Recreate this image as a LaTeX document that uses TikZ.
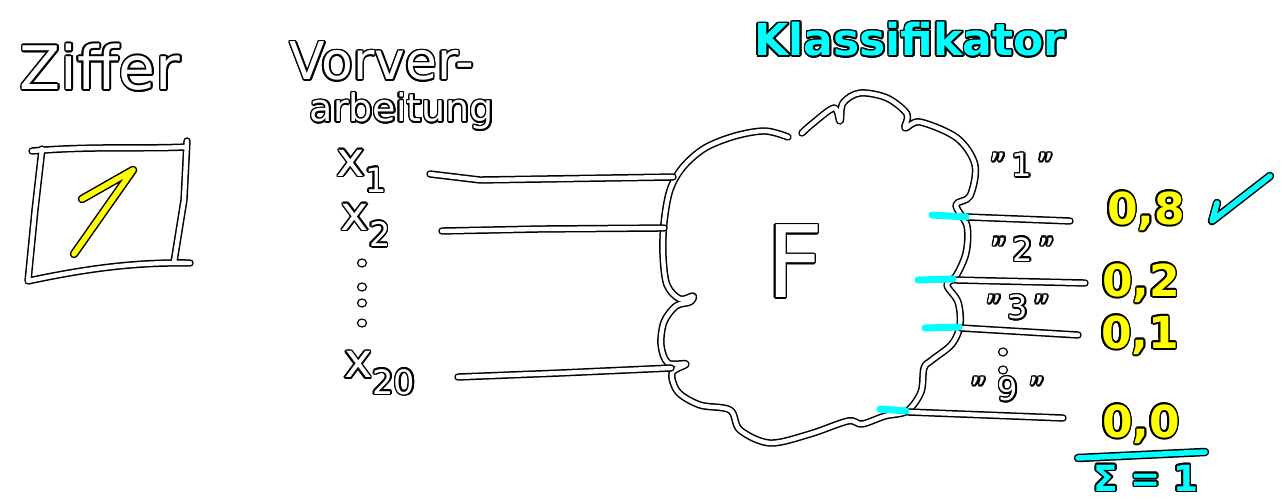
\documentclass[tikz,border=0pt]{standalone}
\usepackage{fontspec}
\setmainfont{DejaVu Sans}
\usepackage{contour}
\contourlength{1.6pt}
\definecolor{hcyan}{RGB}{0,255,255}
\definecolor{hyellow}{RGB}{255,255,0}
\newcommand{\outl}[1]{\contour{black}{#1}}
\newcommand{\fsz}[1]{\fontsize{#1}{#1}\selectfont}
\begin{document}
\begin{tikzpicture}[x=1pt, y=-1pt,
    ink/.style={draw=black, double=white, double distance=4.4pt, line width=1.5pt, line cap=round, line join=round},
    hl/.style={draw=black, double=#1, double distance=5.5pt, line width=1.5pt, line cap=round, line join=round},
    tick/.style={hcyan, line width=7pt, line cap=round},
    lbl/.style={text=white, inner sep=0pt},
    val/.style={text=hyellow, inner sep=0pt, font=\bfseries\fsz{44}}]
    \useasboundingbox (0,0) rectangle (1287,500);

    % Ziffer
    \node[lbl, font=\fsz{60}] (ziffer) at (100,68) {\outl{Ziffer}};
    \draw[ink] (32,151) .. controls (90,146) and (140,149) .. (186,147) (187,141) -- (184,200) -- (174,262)
        (190,263) .. controls (130,262) and (80,270) .. (28,281) -- (35,210) -- (42,149);
    \draw[hl=hyellow] (82,199) -- (133,170) -- (74,254);

    % Vorverarbeitung
    \node[lbl, font=\fsz{52}] (vorv) at (382,62) {\outl{Vorver-}};
    \node[lbl, font=\fsz{38}] (arb) at (402,112) {\outl{arbeitung}};

    % Eingaenge
    \node[lbl, font=\fsz{48}] (xa) at (362,172) {\outl{x\textsubscript{1}}};
    \node[lbl, font=\fsz{48}] (xb) at (366,226) {\outl{x\textsubscript{2}}};
    \node[lbl, font=\fsz{48}] (xt) at (380,374) {\outl{x\textsubscript{20}}};
    \foreach \y in {263,287,303,323}
        \draw[black, fill=white, line width=1.2pt] (362,\y) ellipse (4.5 and 4);

    % Klassifikator
    \node[inner sep=0pt, text=hcyan, font=\bfseries\fsz{44}] (klass) at (910,40) {\outl{Klassifikator}};
    \draw[ink] plot[smooth, tension=0.55] coordinates {(788,137) (765,131) (735,136) (705,148) (683,167) (670,190)
        (664,223) (663,255) (667,285) (680,299) (693,296) (690,302) (676,306) (664,322) (661,345) (668,363)
        (686,364) (672,373) (678,392) (700,405) (730,410) (740,430) (770,443) (810,434) (848,421) (862,424)
        (885,416) (907,411) (921,392) (924,368) (932,360) (952,344) (960,325) (958,302) (947,285) (956,276)
        (966,253) (967,226) (956,205) (970,196) (975,165) (957,138) (920,122) (905,128) (907,114) (887,98)
        (860,93) (843,103) (840,121) (834,108) (812,124) (802,133)};
    \node[lbl, font=\fsz{100}] (F) at (795,262) {\outl{F}};

    % Anschluesse
    \coordinate (sa) at (430,174);
    \coordinate (sb) at (442,231);
    \coordinate (st) at (458,377);
    \coordinate (ina) at (673,177);
    \coordinate (inb) at (664,228);
    \coordinate (int) at (671,368);
    \draw[ink] (sa) -- (480,180) -- (ina);
    \draw[ink] (sb) -- (540,229) -- (inb);
    \draw[ink] (st) -- (560,373) -- (int);

    \coordinate (oa) at (967,217);
    \coordinate (ob) at (955,280);
    \coordinate (oc) at (961,328);
    \coordinate (od) at (908,412);
    \coordinate (ea) at (1070,221);
    \coordinate (eb) at (1085,283);
    \coordinate (ec) at (1078,335);
    \coordinate (ed) at (1063,418);
    \draw[ink] (oa) -- (ea);
    \draw[ink] (ob) -- (eb);
    \draw[ink] (oc) -- (ec);
    \draw[ink] (od) -- (ed);
    \draw[tick] (932,215) -- (966,217);
    \draw[tick] (918,280) -- (953,279);
    \draw[tick] (925,328) -- (959,327);
    \draw[tick] (880,409) -- (906,411);

    % Klassen
    \node[lbl, font=\fsz{32}] (ka) at (1022,166) {\outl{"\,1\,"}};
    \node[lbl, font=\fsz{32}] (kb) at (1023,250) {\outl{"\,2\,"}};
    \node[lbl, font=\fsz{32}] (kc) at (1018,308) {\outl{"\,3\,"}};
    \node[lbl, font=\fsz{32}] (kd) at (1008,390) {\outl{"\,\,9\,\,"}};
    \foreach \y in {352,370}
        \draw[black, fill=white, line width=1.2pt] (1003,\y) ellipse (4.5 and 4);

    % Wahrscheinlichkeiten
    \node[val] (pa) at (1146,212) {\outl{0,8}};
    \node[val] (pb) at (1141,284) {\outl{0,2}};
    \node[val] (pc) at (1140,336) {\outl{0,1}};
    \node[val] (pd) at (1141,425) {\outl{0,0}};
    \draw[hl=hcyan] (1078,458) -- (1205,452);
    \node[inner sep=0pt, text=hcyan, font=\bfseries\fsz{36}] (sum) at (1146,479) {\outl{Σ = 1}};
    \draw[hl=hcyan] (1217,203) -- (1212,221) -- (1270,176);
\end{tikzpicture}
\end{document}
